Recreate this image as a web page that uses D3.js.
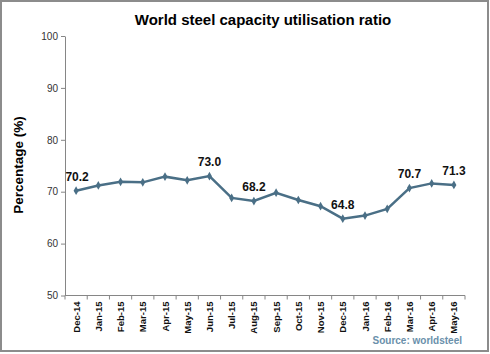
<!DOCTYPE html>
<html>
<head>
<meta charset="utf-8">
<script src="https://cdn.jsdelivr.net/npm/d3@7"></script>
<style>
  body { margin: 0; background: #fff; }
  svg { display: block; font-family: "Liberation Sans", Arial, sans-serif; }
</style>
</head>
<body>
<div id="container"></div>
<script>
let months = ["Dec-14", "Jan-15", "Feb-15", "Mar-15", "Apr-15", "May-15", "Jun-15", "Jul-15", "Aug-15",
  "Sep-15", "Oct-15", "Nov-15", "Dec-15", "Jan-16", "Feb-16", "Mar-16", "Apr-16", "May-16"];
let ratio = [70.2, 71.2, 71.9, 71.8, 72.9, 72.2, 73.0, 68.8, 68.2,
  69.8, 68.4, 67.2, 64.8, 65.4, 66.7, 70.7, 71.6, 71.3];
let labelled = ["Dec-14", "Jun-15", "Aug-15", "Dec-15", "Mar-16", "May-16"];
let yTicks = [50, 60, 70, 80, 90, 100];

let w = 490;
let h = 354;

let viz = d3.select("#container")
  .append("svg")
    .attr("width", w)
    .attr("height", h)
;

// frame
viz.append("rect")
  .attr("x", 1).attr("y", 1)
  .attr("width", w - 3).attr("height", h - 4)
  .attr("fill", "none")
  .attr("stroke", "#8c8c8c")
  .attr("stroke-width", 2)
;

let data = months.map(function(m, i){
  return { month: m, value: ratio[i] };
});

let xScale = d3.scaleBand().domain(months).range([65, 465]);
let yScale = d3.scaleLinear().domain([50, 100]).range([295.5, 36]);

// y axis
let yAxis = d3.axisLeft(yScale).tickValues(yTicks).tickSize(4).tickSizeOuter(0);
let yAxisGroup = viz.append("g")
    .attr("transform", "translate(65,0)")
    .call(yAxis)
;
yAxisGroup.select(".domain").attr("stroke", "#868686");
yAxisGroup.selectAll(".tick line").attr("stroke", "#868686");
yAxisGroup.selectAll(".tick text")
  .attr("font-size", 10)
  .attr("font-family", "Liberation Sans, Arial, sans-serif")
  .attr("fill", "#333")
  .attr("x", -7)
;

// x axis, ticks at band edges
let xAxisGroup = viz.append("g").attr("transform", "translate(0,295.5)");
xAxisGroup.append("line")
  .attr("x1", 65).attr("x2", 465)
  .attr("stroke", "#868686")
;
xAxisGroup.selectAll(".xtick").data(months.concat(["end"])).enter()
  .append("line")
    .attr("x1", function(d, i){ return 65 + i * xScale.step(); })
    .attr("x2", function(d, i){ return 65 + i * xScale.step(); })
    .attr("y1", 0).attr("y2", 4)
    .attr("stroke", "#868686")
;
xAxisGroup.selectAll(".xlabel").data(months).enter()
  .append("text")
    .attr("transform", function(d){
      return "translate(" + (xScale(d) + xScale.bandwidth() / 2 + 3.5) + ",6) rotate(-90)";
    })
    .attr("text-anchor", "end")
    .attr("font-size", 9.5)
    .attr("font-weight", "bold")
    .attr("fill", "#111")
    .text(function(d){ return d; })
;

// line
let lineMaker = d3.line()
  .x(function(d){ return xScale(d.month) + xScale.bandwidth() / 2; })
  .y(function(d){ return yScale(d.value); })
;
viz.append("path")
  .datum(data)
  .attr("d", lineMaker)
  .attr("fill", "none")
  .attr("stroke", "#4a6f86")
  .attr("stroke-width", 2.5)
;
viz.selectAll(".marker").data(data).enter()
  .append("path")
    .attr("d", d3.symbol().type(d3.symbolDiamond).size(22))
    .attr("transform", function(d){
      return "translate(" + (xScale(d.month) + xScale.bandwidth() / 2) + "," + yScale(d.value) + ")";
    })
    .attr("fill", "#4a6f86")
;

// value labels
viz.selectAll(".vlabel").data(data.filter(function(d){ return labelled.indexOf(d.month) >= 0; })).enter()
  .append("text")
    .attr("x", function(d){ return xScale(d.month) + xScale.bandwidth() / 2 + (d.month == "Dec-14" ? 1 : 0); })
    .attr("y", function(d){ return yScale(d.value) - 10; })
    .attr("text-anchor", "middle")
    .attr("font-size", 12)
    .attr("font-weight", "bold")
    .attr("fill", "#111")
    .text(function(d){ return d.value.toFixed(1); })
;

// title
viz.append("text")
  .attr("x", 263).attr("y", 25)
  .attr("text-anchor", "middle")
  .attr("font-size", 15)
  .attr("font-weight", "bold")
  .attr("fill", "#000")
  .text("World steel capacity utilisation ratio")
;

// y axis title
viz.append("text")
  .attr("transform", "translate(23,165) rotate(-90)")
  .attr("text-anchor", "middle")
  .attr("font-size", 13.5)
  .attr("font-weight", "bold")
  .attr("fill", "#000")
  .text("Percentage (%)")
;

// source
viz.append("text")
  .attr("x", 462).attr("y", 344)
  .attr("text-anchor", "end")
  .attr("font-size", 10)
  .attr("font-weight", "bold")
  .attr("fill", "#6a90ab")
  .text("Source: worldsteel")
;
</script>
</body>
</html>
